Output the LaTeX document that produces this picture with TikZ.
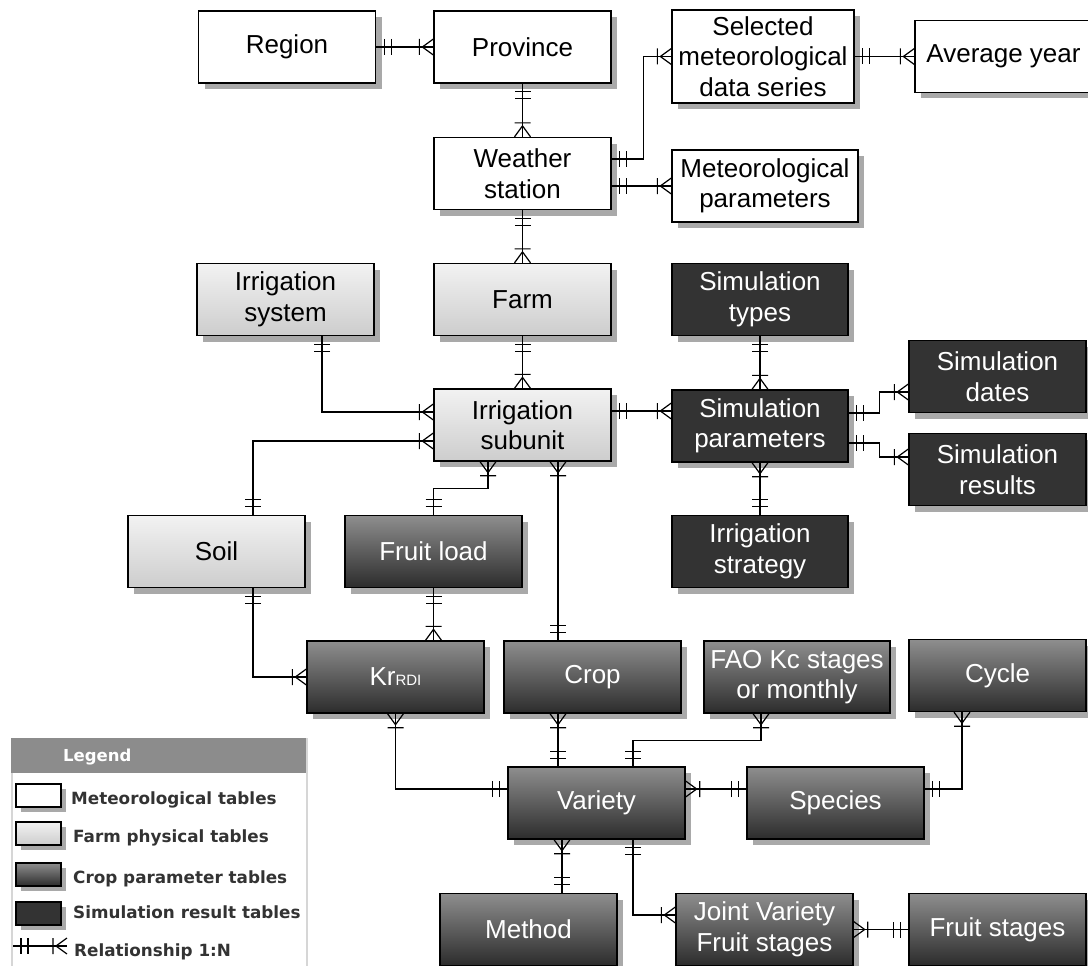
\documentclass[tikz,border=0pt]{standalone}
\usepackage{fontspec}
\setmainfont{Liberation Sans}
\newfontfamily\legfont{DejaVu Sans}
\usetikzlibrary{calc,shadows}
\definecolor{shcol}{HTML}{A9A9A9}
\definecolor{farmtop}{HTML}{F2F2F2}
\definecolor{farmbot}{HTML}{CDCDCD}
\definecolor{croptop}{HTML}{8E8E8E}
\definecolor{cropbot}{HTML}{2C2C2C}
\definecolor{simcol}{HTML}{333333}
\definecolor{legtext}{HTML}{333333}
\definecolor{leghead}{HTML}{8C8C8C}
\definecolor{legborder}{HTML}{D6D6D6}

\pgfdeclarearrow{
  name=Eone,
  setup code={
    \pgfarrowssettipend{0pt}
    \pgfarrowssetlineend{0pt}
    \pgfarrowssetbackend{-16pt}
    \pgfarrowshullpoint{0pt}{8pt}
    \pgfarrowshullpoint{0pt}{-8pt}
    \pgfarrowshullpoint{-16pt}{8pt}
    \pgfarrowshullpoint{-16pt}{-8pt}
  },
  drawing code={
    \pgfsetdash{}{0pt}
    \pgfpathmoveto{\pgfqpoint{-8pt}{-8pt}}\pgfpathlineto{\pgfqpoint{-8pt}{8pt}}
    \pgfpathmoveto{\pgfqpoint{-15pt}{-8pt}}\pgfpathlineto{\pgfqpoint{-15pt}{8pt}}
    \pgfusepathqstroke
  }
}
\pgfdeclarearrow{
  name=Emany,
  setup code={
    \pgfarrowssettipend{0pt}
    \pgfarrowssetlineend{0pt}
    \pgfarrowssetbackend{-15pt}
    \pgfarrowshullpoint{0pt}{8pt}
    \pgfarrowshullpoint{0pt}{-8pt}
    \pgfarrowshullpoint{-15pt}{8pt}
    \pgfarrowshullpoint{-15pt}{-8pt}
  },
  drawing code={
    \pgfsetdash{}{0pt}
    \pgfpathmoveto{\pgfqpoint{0pt}{8pt}}\pgfpathlineto{\pgfqpoint{-11pt}{0pt}}\pgfpathlineto{\pgfqpoint{0pt}{-8pt}}
    \pgfpathmoveto{\pgfqpoint{-14pt}{-8pt}}\pgfpathlineto{\pgfqpoint{-14pt}{8pt}}
    \pgfusepathqstroke
  }
}

\tikzset{
  tbl/.style={draw=black, line width=1.3pt, minimum width=177pt, minimum height=72pt,
    inner sep=0pt, align=center, font=\fontsize{26}{30.5}\selectfont,
    drop shadow={shadow xshift=6pt, shadow yshift=-6pt, fill=shcol, opacity=1}},
  met/.style={tbl, fill=white},
  farmt/.style={tbl, top color=farmtop, bottom color=farmbot},
  cropt/.style={tbl, top color=croptop, bottom color=cropbot, text=white},
  simt/.style={tbl, fill=simcol, text=white},
  conn/.style={line width=1.2pt, line join=miter},
  om/.style={conn, arrows={Eone-Emany}},
  mo/.style={conn, arrows={Emany-Eone}},
  legbox/.style={draw=black, line width=1.3pt, minimum width=45pt, minimum height=23pt, inner sep=0pt,
    drop shadow={shadow xshift=5pt, shadow yshift=-5pt, fill=shcol, opacity=1}},
  legtxt/.style={anchor=base west, inner sep=0pt, text=legtext, font=\legfont\bfseries\fontsize{16.8}{19}\selectfont}
}

\begin{document}
\begin{tikzpicture}[x=1pt,y=-1pt]
\useasboundingbox (0,0) rectangle (1088,966);
\fill[white] (0,0) rectangle (1088,966);

% meteorological tables
\node[met] (reg) at (287,47) {Region};
\node[met] (prov) at (522.5,47) {Province};
\node[met] (ws) at (522.5,173.5) {Weather\\station};
\node[met, minimum width=182pt, minimum height=93pt] (sel) at (763,56.5) {Selected\\meteorological\\data series};
\node[met] (avg) at (1003.5,56.5) {Average year};
\node[met, minimum width=186pt] (mpar) at (765,186) {Meteorological\\parameters};

% farm physical tables
\node[farmt] (isys) at (285.5,299.5) {Irrigation\\system};
\node[farmt] (farm) at (522.5,299.5) {Farm};
\node[farmt] (isub) at (522.5,425) {Irrigation\\subunit};
\node[farmt] (soil) at (216.5,551.5) {Soil};

% simulation tables
\node[simt, minimum width=176pt] (stype) at (760,299.5) {Simulation\\types};
\node[simt, minimum width=176pt] (spar) at (760,426) {Simulation\\parameters};
\node[simt] (sdat) at (997.5,376.5) {Simulation\\dates};
\node[simt] (sres) at (997.5,469.5) {Simulation\\results};
\node[simt, minimum width=176pt] (istr) at (760,551.5) {Irrigation\\strategy};

% crop parameter tables
\node[cropt] (fload) at (433.5,551.5) {Fruit load};
\node[cropt] (kr) at (395.5,677) {Kr{\fontsize{15}{15}\selectfont RDI}};
\node[cropt] (crop) at (592.5,677) {Crop};
\node[cropt, minimum width=186pt] (fao) at (797,677) {FAO Kc stages\\or monthly};
\node[cropt] (cyc) at (997.5,675.5) {Cycle};
\node[cropt] (var) at (596.5,803) {Variety};
\node[cropt] (spec) at (835.5,803) {Species};
\node[cropt] (meth) at (528.5,929.5) {Method};
\node[cropt] (joint) at (764.5,929.5) {Joint Variety\\Fruit stages};
\node[cropt] (fst) at (997.5,929.5) {Fruit stages};

% connectors
\draw[om] (reg.east) -- (prov.west);
\draw[om] (prov.south) -- (ws.north);
\draw[om] ([yshift=14.5pt]ws.east) -- ++(32,0) |- (sel.west);
\draw[om] ([yshift=-12.5pt]ws.east) -- (mpar.west);
\draw[om] (sel.east) -- (avg.west);
\draw[om] (ws.south) -- (farm.north);
\draw[om] (farm.south) -- (isub.north);
\draw[om] ([xshift=36.5pt]isys.south) |- ([yshift=13pt]isub.west);
\draw[mo] ([yshift=-16pt]isub.west) -| ([xshift=36.5pt]soil.north);
\draw[mo] ([xshift=-34.5pt]isub.south) -- ++(0,27) -| (fload.north);
\draw[mo] ([xshift=35.5pt]isub.south) -- ([xshift=-34.5pt]crop.north);
\draw[om] ([yshift=14pt]isub.east) -- ([yshift=15pt]spar.west);
\draw[om] (stype.south) -- (spar.north);
\draw[om] ([yshift=13pt]spar.east) -- ++(31,0) |- ([yshift=-15.5pt]sdat.west);
\draw[om] ([yshift=-17pt]spar.east) -- ++(31,0) |- ([yshift=12.5pt]sres.west);
\draw[mo] (spar.south) -- (istr.north);
\draw[om] ([xshift=36.5pt]soil.south) |- (kr.west);
\draw[om] (fload.south) -- ([xshift=38pt]kr.north);
\draw[mo] (kr.south) |- ([yshift=14pt]var.west);
\draw[mo] ([xshift=-34.5pt]crop.south) -- ([xshift=-38.5pt]var.north);
\draw[mo] ([xshift=-36pt]fao.south) -- ++(0,27) -| ([xshift=36.5pt]var.north);
\draw[mo] ([yshift=14pt]var.east) -- ([yshift=14pt]spec.west);
\draw[om] ([yshift=14pt]spec.east) -| ([xshift=-35.5pt]cyc.south);
\draw[mo] ([xshift=-34.5pt]var.south) -- ([xshift=33.5pt]meth.north);
\draw[om] ([xshift=36.5pt]var.south) |- ([yshift=14.5pt]joint.west);
\draw[mo] (joint.east) -- (fst.west);

% legend
\node[draw=legborder, line width=2pt, fill=white, minimum width=295pt, minimum height=240pt, inner sep=0pt, anchor=north west] (legframe) at (11,738) {};
\node[fill=leghead, minimum width=295pt, minimum height=35pt, inner sep=0pt, anchor=north west] (leghd) at (11,738) {};
\node[anchor=base west, inner sep=0pt, text=white, font=\legfont\bfseries\fontsize{16.5}{19}\selectfont] (legtitle) at (63,761) {Legend};
\node[legbox, fill=white] (lg1) at (38.5,795.5) {};
\node[legbox, top color=farmtop, bottom color=farmbot] (lg2) at (38.5,833.5) {};
\node[legbox, top color=croptop, bottom color=cropbot] (lg3) at (38.5,874.5) {};
\node[legbox, fill=simcol] (lg4) at (38.5,913.5) {};
\node[legtxt] (lt1) at (71,804) {Meteorological tables};
\node[legtxt] (lt2) at (73,842) {Farm physical tables};
\node[legtxt] (lt3) at (73,883) {Crop parameter tables};
\node[legtxt] (lt4) at (73,918) {Simulation result tables};
\node[legtxt] (lt5) at (74,956) {Relationship 1:N};
\coordinate (rl1) at (13,946);
\coordinate (rl2) at (67,946);
\draw[om] (rl1) -- (rl2);
\end{tikzpicture}
\end{document}
